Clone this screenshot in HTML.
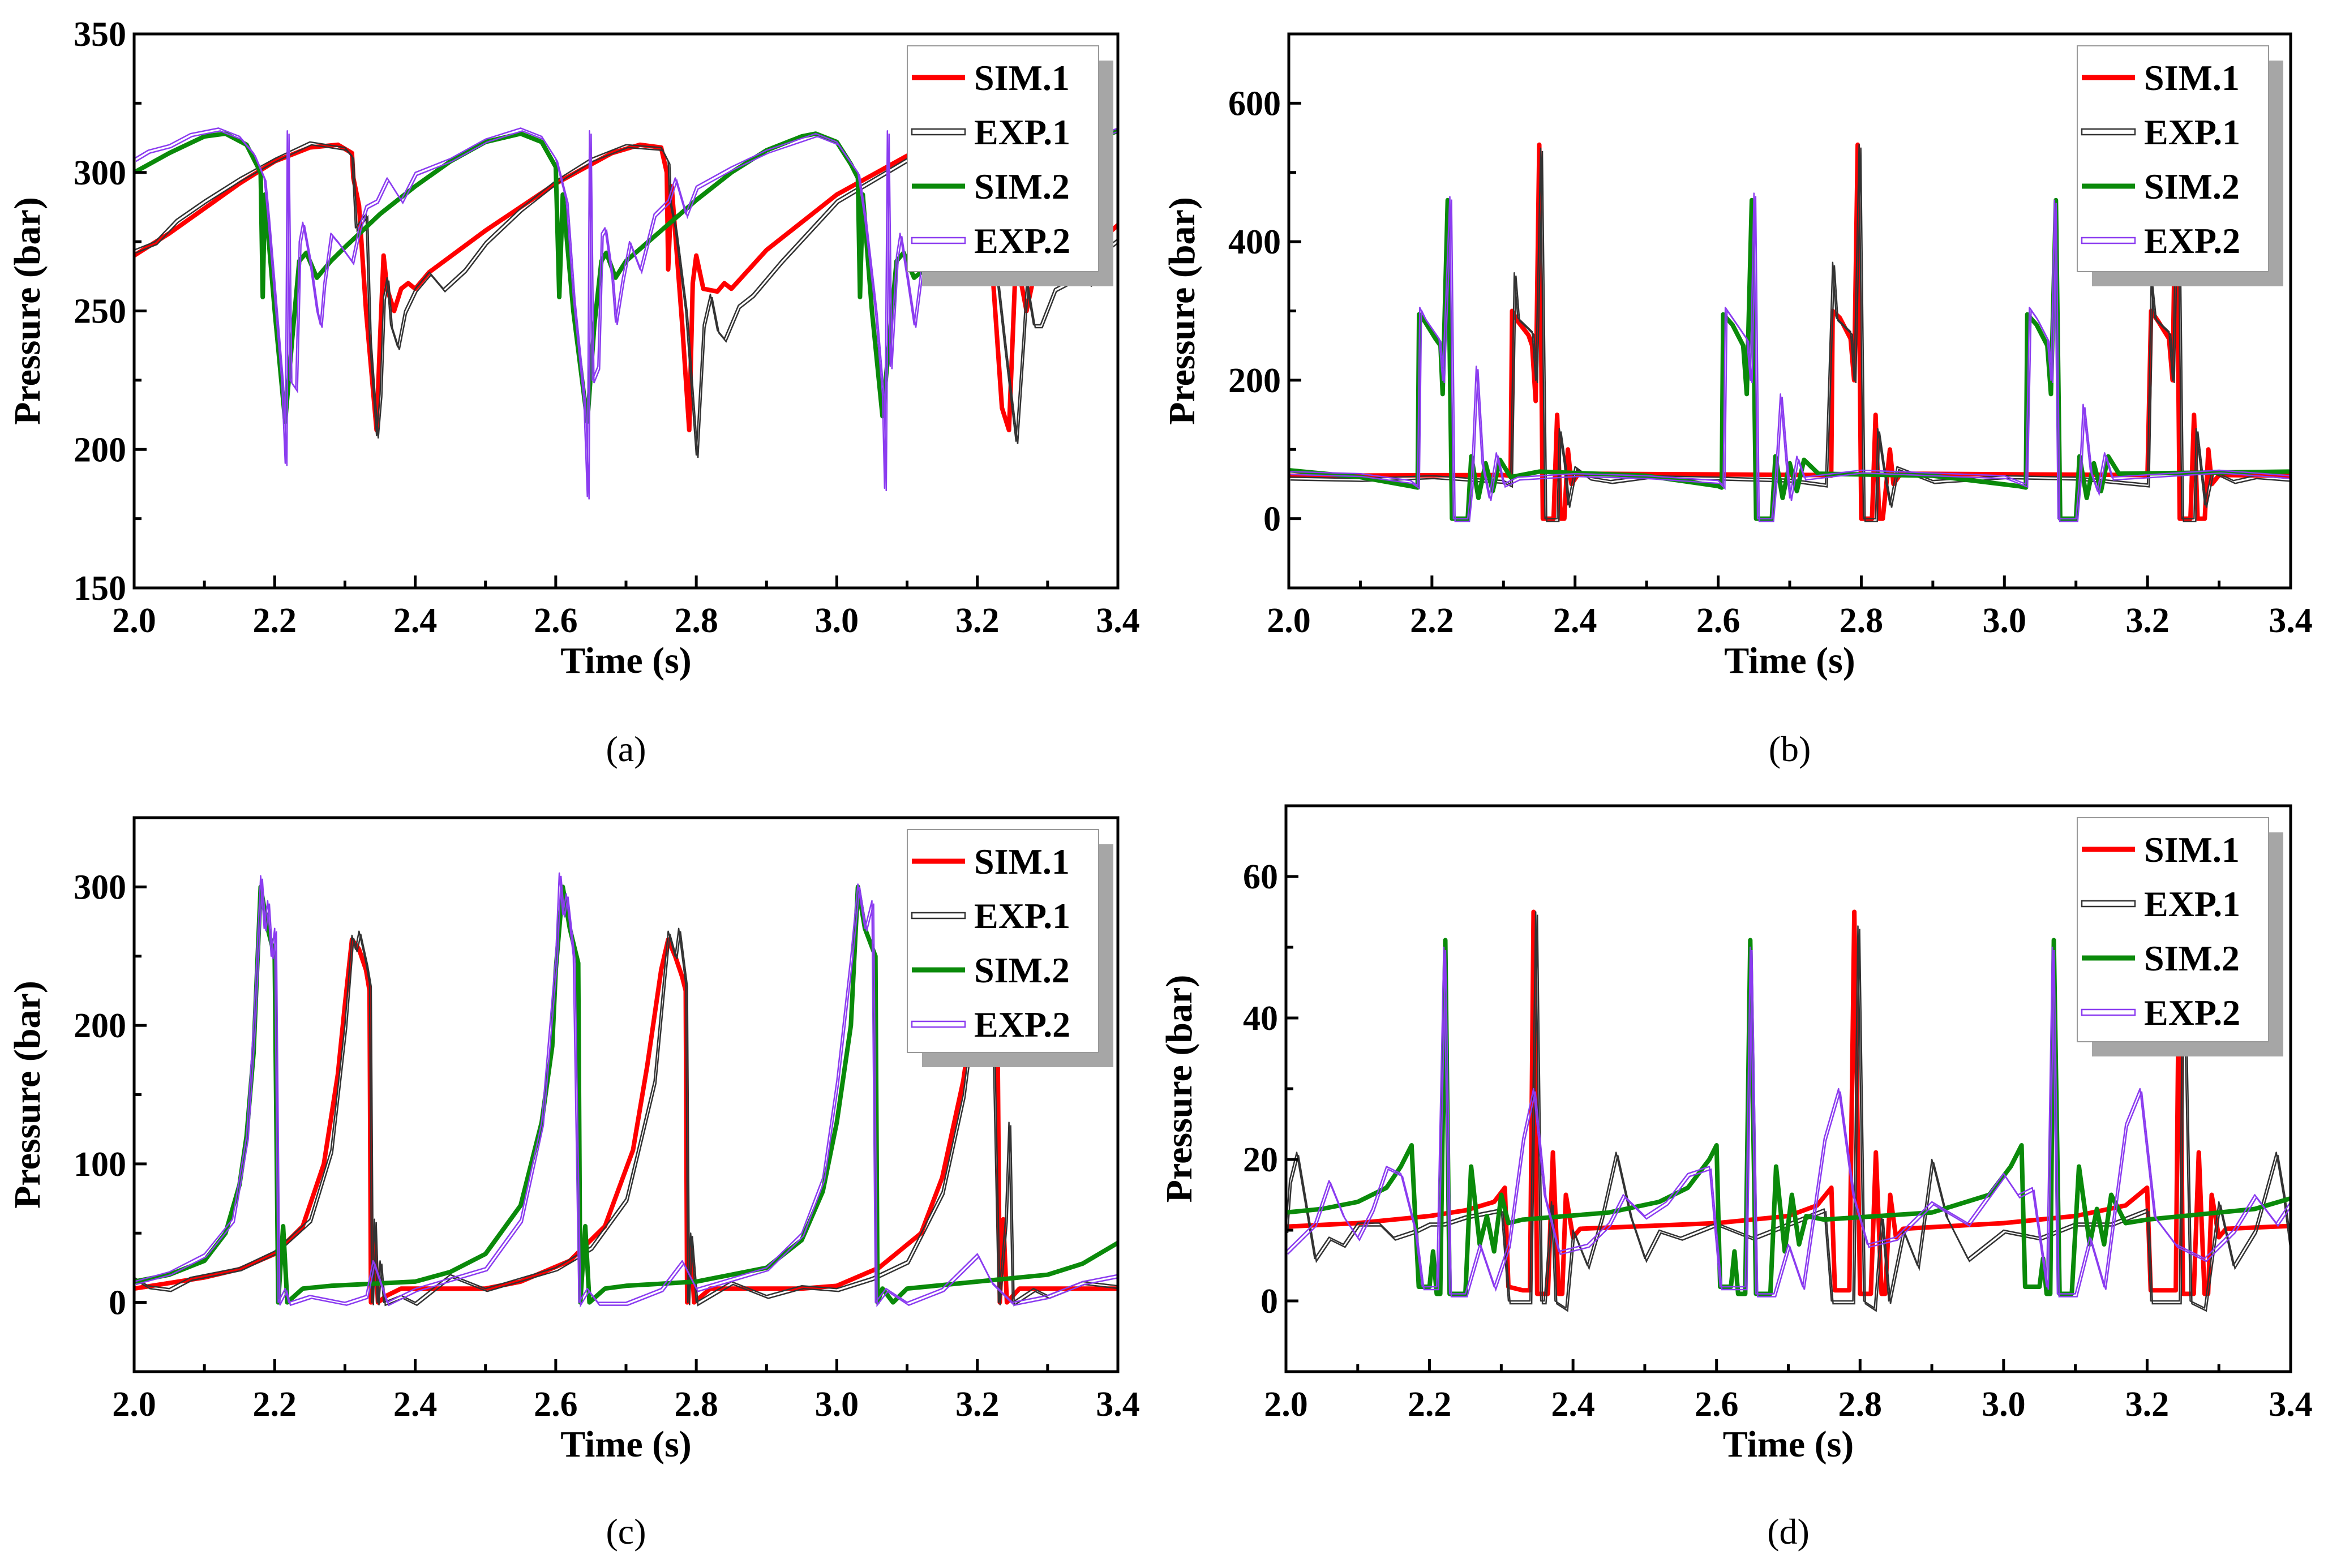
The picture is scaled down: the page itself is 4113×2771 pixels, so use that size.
<!DOCTYPE html>
<html><head><meta charset="utf-8"><style>
html,body{margin:0;padding:0;background:#fff}
svg{display:block;font-family:"Liberation Serif","Times New Roman",serif}
svg text{font-family:"Liberation Serif","Times New Roman",serif}
</style></head><body>
<svg id="fig" width="4113" height="2771" viewBox="0 0 4113 2771" xmlns="http://www.w3.org/2000/svg" font-family="Liberation Serif, Times New Roman, serif"></svg>
<script>
const xTicks=[2.0,2.2,2.4,2.6,2.8,3.0,3.2,3.4];
const seriesNames=["SIM.1","EXP.1","SIM.2","EXP.2"];
const aTicks=[150,200,250,300,350];
const bTicks=[0,200,400,600];
const cTicks=[0,100,200,300];
const dTicks=[0,20,40,60];

const aSim1=[[2.0,270],[2.05,278],[2.1,287],[2.15,296],[2.2,304],[2.25,309],[2.29,310],[2.31,307],[2.312,298],[2.32,288],[2.33,250],[2.345,207],[2.35,240],[2.355,270],[2.36,258],[2.37,250],[2.38,258],[2.39,260],[2.40,258],[2.42,264],[2.5,279],[2.6,296],[2.68,307],[2.72,310],[2.75,309],[2.758,300],[2.76,265],[2.765,295],[2.78,245],[2.79,207],[2.795,260],[2.80,270],[2.81,258],[2.83,257],[2.84,260],[2.85,258],[2.9,272],[3.0,292],[3.1,306],[3.16,310],[3.2,305],[3.205,300],[3.21,265],[3.22,270],[3.235,215],[3.245,207],[3.255,270],[3.27,250],[3.28,262],[3.3,260],[3.35,270],[3.4,281]];
const aExp1=[[2.0,272],[2.03,275],[2.06,283],[2.1,290],[2.15,298],[2.2,305],[2.25,311],[2.3,309],[2.31,306],[2.315,280],[2.33,285],[2.335,240],[2.345,205],[2.35,220],[2.355,255],[2.36,262],[2.365,245],[2.375,237],[2.385,250],[2.4,258],[2.42,264],[2.44,258],[2.47,265],[2.5,275],[2.55,287],[2.6,297],[2.65,305],[2.7,310],[2.75,309],[2.76,304],[2.762,290],[2.77,280],[2.785,250],[2.8,198],[2.81,245],[2.82,256],[2.83,243],[2.84,240],[2.86,252],[2.88,256],[2.92,268],[3.0,290],[3.1,305],[3.15,309],[3.2,306],[3.22,280],[3.24,235],[3.255,203],[3.265,240],[3.27,260],[3.28,245],[3.29,245],[3.31,258],[3.34,262],[3.36,260],[3.38,272],[3.4,276]];
const aSim2=[[2.0,300],[2.05,307],[2.1,313],[2.13,314],[2.16,310],[2.18,300],[2.183,255],[2.186,292],[2.2,250],[2.215,210],[2.225,240],[2.235,268],[2.245,271],[2.26,262],[2.28,268],[2.3,273],[2.35,285],[2.4,295],[2.45,304],[2.5,311],[2.55,314],[2.58,311],[2.6,302],[2.605,255],[2.61,292],[2.625,250],[2.645,210],[2.655,245],[2.665,268],[2.672,271],[2.685,262],[2.7,268],[2.75,279],[2.8,290],[2.85,300],[2.9,308],[2.95,313],[2.97,314],[3.0,311],[3.02,303],[3.03,298],[3.033,255],[3.037,292],[3.05,250],[3.065,212],[3.075,240],[3.085,268],[3.095,271],[3.11,262],[3.15,270],[3.2,282],[3.25,293],[3.3,303],[3.35,310],[3.4,315]];
const aExp2=[[2.0,305],[2.02,308],[2.05,310],[2.08,314],[2.12,316],[2.15,313],[2.17,307],[2.185,298],[2.19,285],[2.2,255],[2.21,225],[2.215,195],[2.218,315],[2.222,225],[2.23,222],[2.235,275],[2.24,282],[2.25,268],[2.26,250],[2.265,245],[2.27,260],[2.28,278],[2.29,275],[2.31,268],[2.32,280],[2.33,288],[2.345,290],[2.36,298],[2.38,290],[2.4,300],[2.45,305],[2.5,312],[2.55,316],[2.58,313],[2.6,305],[2.615,290],[2.625,255],[2.64,218],[2.645,183],[2.648,315],[2.652,225],[2.66,230],[2.665,278],[2.67,280],[2.68,262],[2.685,246],[2.695,262],[2.705,275],[2.72,265],[2.74,285],[2.76,290],[2.77,298],[2.785,285],[2.8,295],[2.85,302],[2.9,308],[2.97,314],[3.0,311],[3.03,300],[3.04,283],[3.055,250],[3.065,220],[3.068,186],[3.072,315],[3.076,230],[3.085,270],[3.09,278],[3.1,262],[3.11,245],[3.12,265],[3.14,275],[3.15,262],[3.17,285],[3.2,292],[3.22,300],[3.26,303],[3.3,308],[3.35,311],[3.4,316]];

const bSim1=[[2.0,62],[2.3,63],[2.31,62],[2.312,300],[2.32,285],[2.335,265],[2.34,250],[2.345,170],[2.35,540],[2.355,0],[2.37,0],[2.375,150],[2.38,0],[2.385,0],[2.39,100],[2.395,50],[2.405,65],[2.75,63],[2.758,62],[2.76,300],[2.77,290],[2.785,260],[2.79,200],[2.795,540],[2.8,0],[2.815,0],[2.82,150],[2.825,0],[2.83,0],[2.84,100],[2.845,50],[2.855,65],[3.2,63],[3.205,300],[3.215,285],[3.23,260],[3.235,200],[3.24,540],[3.245,0],[3.26,0],[3.265,150],[3.27,0],[3.28,0],[3.285,100],[3.29,50],[3.3,63],[3.4,62]];
const bExp1=[[2.0,60],[2.1,58],[2.2,62],[2.3,55],[2.31,50],[2.315,355],[2.32,290],[2.34,270],[2.345,200],[2.352,535],[2.358,0],[2.375,0],[2.378,130],[2.385,80],[2.39,20],[2.4,75],[2.42,60],[2.45,55],[2.5,62],[2.6,60],[2.7,57],[2.75,50],[2.76,370],[2.765,290],[2.785,270],[2.79,200],[2.797,540],[2.803,0],[2.82,0],[2.823,130],[2.83,80],[2.84,20],[2.85,75],[2.9,55],[3.0,62],[3.1,60],[3.2,50],[3.205,340],[3.21,290],[3.23,270],[3.235,200],[3.242,535],[3.248,0],[3.265,0],[3.268,130],[3.28,20],[3.29,70],[3.32,55],[3.35,62],[3.4,58]];
const bSim2=[[2.0,70],[2.1,60],[2.17,47],[2.18,45],[2.182,295],[2.19,285],[2.205,260],[2.212,250],[2.215,180],[2.222,460],[2.228,0],[2.245,0],[2.25,0],[2.255,90],[2.265,30],[2.275,80],[2.285,40],[2.295,85],[2.31,60],[2.35,68],[2.5,62],[2.6,47],[2.605,45],[2.607,295],[2.62,280],[2.635,250],[2.64,180],[2.647,460],[2.653,0],[2.675,0],[2.68,90],[2.69,30],[2.7,80],[2.71,40],[2.72,85],[2.74,65],[2.9,62],[3.02,47],[3.03,45],[3.032,295],[3.045,280],[3.06,250],[3.065,180],[3.072,460],[3.078,0],[3.1,0],[3.105,90],[3.115,30],[3.125,80],[3.135,40],[3.145,90],[3.16,65],[3.4,68]];
const bExp2=[[2.0,68],[2.1,65],[2.17,55],[2.18,48],[2.183,305],[2.19,290],[2.21,260],[2.215,200],[2.225,465],[2.23,0],[2.25,0],[2.255,50],[2.262,220],[2.27,80],[2.28,30],[2.29,95],[2.3,50],[2.32,60],[2.4,65],[2.5,62],[2.6,55],[2.607,48],[2.61,305],[2.62,290],[2.64,260],[2.645,200],[2.65,470],[2.655,0],[2.675,0],[2.68,60],[2.687,180],[2.695,80],[2.7,30],[2.71,90],[2.72,60],[2.8,70],[3.0,62],[3.03,50],[3.035,305],[3.045,290],[3.06,260],[3.065,200],[3.07,460],[3.075,0],[3.1,0],[3.105,60],[3.11,165],[3.12,70],[3.13,40],[3.14,95],[3.15,60],[3.3,70],[3.4,62]];

const cSim1=[[2.0,10],[2.1,18],[2.15,24],[2.2,35],[2.24,55],[2.27,100],[2.29,165],[2.3,215],[2.31,262],[2.32,255],[2.33,240],[2.335,225],[2.337,0],[2.342,50],[2.347,0],[2.36,5],[2.38,10],[2.5,10],[2.55,15],[2.62,30],[2.67,55],[2.71,110],[2.73,170],[2.75,240],[2.76,262],[2.77,250],[2.78,235],[2.785,225],[2.787,0],[2.792,40],[2.797,0],[2.82,10],[2.95,10],[3.0,12],[3.06,25],[3.12,50],[3.15,90],[3.18,160],[3.2,230],[3.21,262],[3.22,250],[3.228,240],[3.232,0],[3.237,60],[3.242,0],[3.26,10],[3.4,10]];
const cExp1=[[2.0,18],[2.02,12],[2.05,10],[2.08,18],[2.15,25],[2.2,37],[2.25,60],[2.28,110],[2.3,200],[2.31,265],[2.315,255],[2.32,268],[2.33,245],[2.335,230],[2.338,0],[2.342,60],[2.346,0],[2.35,30],[2.355,0],[2.38,5],[2.4,0],[2.45,20],[2.5,10],[2.6,25],[2.65,40],[2.7,75],[2.74,160],[2.76,268],[2.77,250],[2.775,270],[2.785,230],[2.788,0],[2.792,50],[2.8,0],[2.85,15],[2.9,5],[2.95,12],[3.0,10],[3.05,18],[3.1,30],[3.15,80],[3.18,150],[3.2,230],[3.21,262],[3.22,250],[3.23,0],[3.24,60],[3.245,130],[3.25,0],[3.28,10],[3.3,5],[3.35,15],[3.4,12]];
const cSim2=[[2.0,15],[2.05,20],[2.1,30],[2.13,50],[2.15,85],[2.16,120],[2.17,180],[2.175,240],[2.18,300],[2.19,270],[2.2,250],[2.205,0],[2.212,55],[2.218,0],[2.24,10],[2.28,12],[2.4,15],[2.45,22],[2.5,35],[2.55,70],[2.58,130],[2.595,185],[2.6,240],[2.61,300],[2.62,270],[2.632,245],[2.635,0],[2.642,55],[2.648,0],[2.67,10],[2.7,12],[2.8,15],[2.9,25],[2.95,45],[2.98,80],[3.0,130],[3.02,200],[3.03,300],[3.04,270],[3.055,250],[3.058,0],[3.065,10],[3.08,0],[3.1,10],[3.2,15],[3.3,20],[3.35,28],[3.4,43]];
const cExp2=[[2.0,15],[2.05,22],[2.1,35],[2.14,60],[2.16,120],[2.17,200],[2.18,308],[2.185,270],[2.19,290],[2.195,250],[2.2,270],[2.205,0],[2.215,10],[2.22,0],[2.25,5],[2.3,0],[2.33,5],[2.34,30],[2.36,0],[2.4,10],[2.5,25],[2.55,60],[2.58,130],[2.6,250],[2.605,310],[2.61,280],[2.615,295],[2.625,250],[2.633,0],[2.645,10],[2.66,0],[2.7,0],[2.75,10],[2.78,30],[2.8,10],[2.9,25],[2.95,50],[2.98,90],[3.0,160],[3.02,250],[3.03,302],[3.04,270],[3.05,290],[3.055,0],[3.07,10],[3.1,0],[3.15,10],[3.2,35],[3.22,15],[3.25,0],[3.3,5],[3.35,15],[3.4,20]];

const dSim1=[[2.0,10.5],[2.1,11],[2.2,12],[2.25,12.8],[2.29,14],[2.305,16],[2.31,2],[2.33,1.5],[2.34,1.5],[2.345,55],[2.35,1],[2.365,1],[2.372,21],[2.38,1],[2.385,1],[2.39,15],[2.4,9],[2.41,10.2],[2.6,11],[2.7,12],[2.74,13.5],[2.76,16],[2.765,1.5],[2.785,1.5],[2.792,55],[2.8,1],[2.815,1],[2.822,21],[2.83,1],[2.835,1],[2.842,15],[2.85,9],[2.86,10.2],[3.0,11],[3.1,12],[3.17,13.5],[3.2,16],[3.205,1.5],[3.24,1.5],[3.245,55],[3.25,1],[3.265,1],[3.272,21],[3.28,1],[3.285,1],[3.29,15],[3.3,9],[3.31,10.2],[3.4,10.6]];
const dExp1=[[2.0,10],[2.005,17],[2.015,21],[2.025,15],[2.04,6],[2.06,9],[2.08,8],[2.1,11],[2.13,11],[2.15,9],[2.18,10],[2.2,11],[2.22,11],[2.25,12],[2.3,13],[2.31,0],[2.34,0],[2.348,55],[2.355,0],[2.36,0],[2.37,14],[2.375,0],[2.39,-1],[2.4,10],[2.42,5],[2.44,12],[2.46,21],[2.48,12],[2.5,6],[2.52,10],[2.55,9],[2.6,11],[2.65,9],[2.7,11],[2.75,13],[2.76,0],[2.79,0],[2.797,53],[2.805,0],[2.82,-1],[2.83,12],[2.84,0],[2.86,10],[2.88,5],[2.9,20],[2.92,12],[2.95,6],[3.0,10],[3.05,9],[3.1,11],[3.15,11],[3.2,13],[3.205,0],[3.245,0],[3.25,54],[3.26,0],[3.28,-1],[3.3,14],[3.32,5],[3.35,10],[3.38,21],[3.39,15],[3.4,7]];
const dSim2=[[2.0,12.5],[2.05,13],[2.1,14],[2.14,16],[2.16,19],[2.175,22],[2.185,2],[2.2,2],[2.205,7],[2.21,1],[2.215,1],[2.222,51],[2.228,1],[2.24,1],[2.25,1],[2.258,19],[2.27,8],[2.28,12],[2.29,7],[2.3,15],[2.31,11],[2.33,11.5],[2.45,12.5],[2.52,14],[2.56,16],[2.59,20],[2.6,22],[2.605,2],[2.62,2],[2.625,7],[2.63,1],[2.64,1],[2.647,51],[2.655,1],[2.675,1],[2.683,19],[2.695,7],[2.705,15],[2.715,8],[2.725,12],[2.75,11.5],[2.9,12.5],[2.98,15],[3.01,19],[3.025,22],[3.03,2],[3.05,2],[3.055,6],[3.06,1],[3.065,1],[3.07,51],[3.078,1],[3.095,1],[3.105,19],[3.12,8],[3.13,13],[3.14,8],[3.15,15],[3.17,11],[3.2,11.5],[3.3,12.5],[3.35,13],[3.4,14.5]];
const dExp2=[[2.0,7],[2.02,9],[2.04,11],[2.06,17],[2.08,12],[2.1,9],[2.12,13],[2.14,19],[2.16,18],[2.18,10],[2.19,2],[2.21,2],[2.22,50],[2.228,1],[2.25,1],[2.27,8],[2.29,2],[2.31,8],[2.33,23],[2.345,30],[2.36,15],[2.38,7],[2.42,8],[2.45,11],[2.47,15],[2.5,12],[2.53,14],[2.56,18],[2.59,19],[2.605,2],[2.64,2],[2.647,50],[2.655,1],[2.68,1],[2.7,8],[2.72,2],[2.75,23],[2.77,30],[2.79,15],[2.81,8],[2.85,9],[2.88,12],[2.9,14],[2.95,11],[3.0,18],[3.02,15],[3.04,16],[3.06,2],[3.068,50],[3.075,1],[3.1,1],[3.12,9],[3.14,2],[3.17,25],[3.19,30],[3.21,12],[3.24,8],[3.28,6],[3.32,10],[3.35,15],[3.38,11],[3.4,14]];

const NS="http://www.w3.org/2000/svg";
const FONT='"Liberation Serif","Times New Roman",serif';
const svg=document.getElementById('fig');
function mk(tag,attrs,parent){const e=document.createElementNS(NS,tag);for(const k in attrs)e.setAttribute(k,attrs[k]);if(tag==='text'){e.setAttribute('font-family',FONT);e.style.fontFamily=FONT;}(parent||svg).appendChild(e);return e;}

const panels=[
 {id:'a',L:237,R:1975,T:60,B:1039,ymin:150,ymax:350,ticks:aTicks,minor:25,data:[aSim1,aExp1,aSim2,aExp2],cap:'(a)',capY:1345,leg:{x:1603,y:81,w:338,h:399}},
 {id:'b',L:2277,R:4047,T:60,B:1039,ymin:-100,ymax:700,ticks:bTicks,minor:100,data:[bSim1,bExp1,bSim2,bExp2],cap:'(b)',capY:1345,leg:{x:3670,y:81,w:338,h:399}},
 {id:'c',L:237,R:1975,T:1445,B:2424,ymin:-50,ymax:350,ticks:cTicks,minor:50,data:[cSim1,cExp1,cSim2,cExp2],cap:'(c)',capY:2728,leg:{x:1603,y:1466,w:338,h:394}},
 {id:'d',L:2272,R:4047,T:1424,B:2424,ymin:-10,ymax:70,ticks:dTicks,minor:10,data:[dSim1,dExp1,dSim2,dExp2],cap:'(d)',capY:2728,leg:{x:3670,y:1445,w:338,h:396}}
];
const colors=['#ff0000','#333333','#0a8a0a','#8b3cf0'];

panels.forEach(p=>{
 const g=mk('g',{});
 
 
 const xs=v=>p.L+(v-2.0)/(3.4-2.0)*(p.R-p.L);
 const ys=v=>p.B-(v-p.ymin)/(p.ymax-p.ymin)*(p.B-p.T);
 const cp=mk('clipPath',{id:'clip'+p.id},g);
 mk('rect',{x:p.L,y:p.T,width:p.R-p.L,height:p.B-p.T},cp);
 const sg=mk('g',{'clip-path':'url(#clip'+p.id+')'},g);
 p.data.forEach((ser,i)=>{
  const d=ser.map((pt,j)=>(j?'L':'M')+xs(pt[0]).toFixed(1)+','+ys(pt[1]).toFixed(1)).join('');
  if(i%2===0){
   const path=mk('path',{d:d,fill:'none',stroke:colors[i],'stroke-width':8,'stroke-linejoin':'round'},sg);
   
   
  } else {
   const path=mk('path',{d:d,fill:'none',stroke:colors[i],'stroke-width':2.5,'stroke-linejoin':'round'},sg);
   
   
   const path2=mk('path',{d:d,fill:'none',stroke:colors[i],'stroke-width':2.5,transform:'translate(3,5)'},sg);
   
   
  }
 });
 const fr=mk('rect',{x:p.L,y:p.T,width:p.R-p.L,height:p.B-p.T,fill:'none',stroke:'#000','stroke-width':5},g);
 
 
 for(let k=0;k<=14;k++){
  const v=2.0+k*0.1,x=xs(v),len=(k%2===0)?22:13;
  mk('line',{x1:x,y1:p.B,x2:x,y2:p.B-len,stroke:'#000','stroke-width':5},g);
 }
 xTicks.forEach(v=>{
  const t=mk('text',{x:xs(v),y:p.B+78,'font-size':62,'font-weight':'bold','text-anchor':'middle'},g);
  t.textContent=v.toFixed(1);
  
  
 });
 for(let v=p.ymin;v<=p.ymax;v+=p.minor){
  const y=ys(v),maj=p.ticks.includes(v);
  mk('line',{x1:p.L,y1:y,x2:p.L+(maj?22:13),y2:y,stroke:'#000','stroke-width':5},g);
 }
 p.ticks.forEach(v=>{
  const t=mk('text',{x:p.L-14,y:ys(v)+21,'font-size':62,'font-weight':'bold','text-anchor':'end'},g);
  t.textContent=String(v);
  
  
 });
 const xt=mk('text',{x:(p.L+p.R)/2,y:p.B+150,'font-size':66,'font-weight':'bold','text-anchor':'middle'},g);
 xt.textContent='Time (s)';
 
 
 const ycx=p.L-167;
 const yt=mk('text',{x:ycx,y:(p.T+p.B)/2,'font-size':66,'font-weight':'bold','text-anchor':'middle',transform:'rotate(-90 '+ycx+' '+(p.T+p.B)/2+')'},g);
 yt.setAttribute('x',ycx);
 yt.setAttribute('y',(p.T+p.B)/2);
 yt.setAttribute('transform','rotate(-90 '+ycx+' '+(p.T+p.B)/2+') translate(0,0)');
 yt.textContent='Pressure (bar)';
 
 
 const cap=mk('text',{x:(p.L+p.R)/2,y:p.capY,'font-size':64,'text-anchor':'middle'},g);
 cap.textContent=p.cap;
 
 
 const lg=mk('g',{},g);
 
 
 const q=p.leg;
 mk('rect',{x:q.x+26,y:q.y+26,width:q.w,height:q.h,fill:'#a6a6a6'},lg);
 mk('rect',{x:q.x,y:q.y,width:q.w,height:q.h,fill:'#fff',stroke:'#999','stroke-width':2},lg);
 seriesNames.forEach((n,i)=>{
  const cy=q.y+56+i*96;
  const le=mk('g',{},lg);
  
  
  if(i%2===0) mk('line',{x1:q.x+8,y1:cy,x2:q.x+102,y2:cy,stroke:colors[i],'stroke-width':9},le);
  else mk('rect',{x:q.x+8,y:cy-5,width:94,height:10,fill:'none',stroke:colors[i],'stroke-width':2.5},le);
  const t=mk('text',{x:q.x+118,y:cy+22,'font-size':64,'font-weight':'bold'},le);
  t.textContent=n;
 });
});
</script>
</body></html>
